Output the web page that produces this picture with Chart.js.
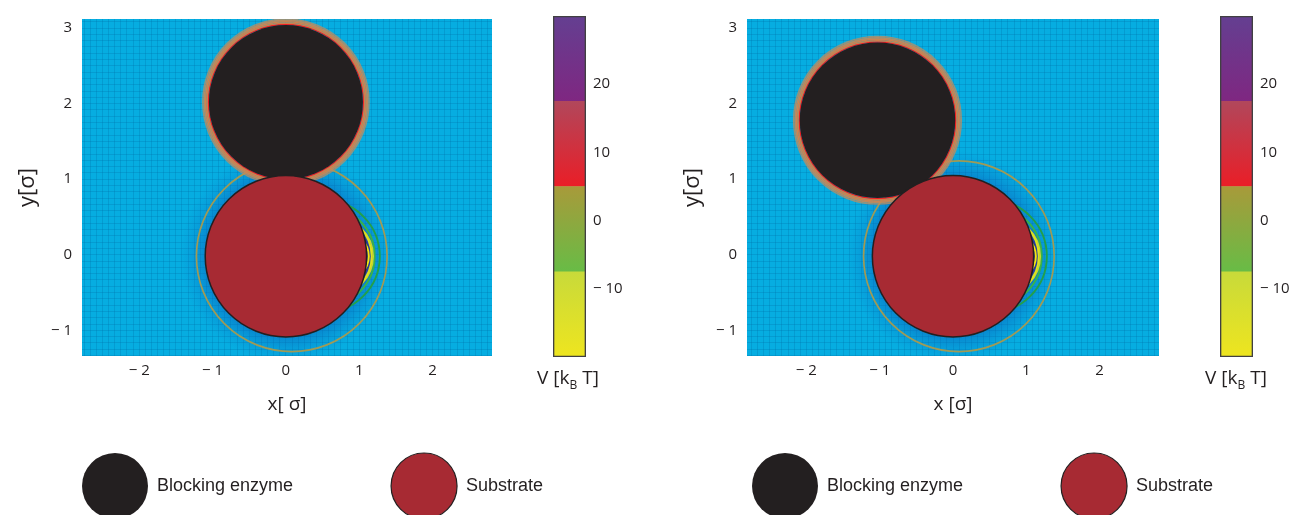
<!DOCTYPE html>
<html><head><meta charset="utf-8">
<script src="https://cdn.jsdelivr.net/npm/chart.js@4.4.0/dist/chart.umd.min.js"></script>
<style>
html,body{margin:0;padding:0;background:#fff;width:1295px;height:515px;overflow:hidden;position:relative;}
canvas{position:absolute;}
.cbt{position:absolute;font:19px 'Open Sans',sans-serif;color:#231f20;white-space:nowrap;transform:translate(-50%,-50%);line-height:1;}
.cbt sub{font-size:12px;vertical-align:-5px;line-height:0;}
</style></head><body>
<canvas id="p1" width="500" height="420" style="left:0;top:0"></canvas>
<canvas id="c1" width="150" height="420" style="left:500px;top:0"></canvas>
<canvas id="p2" width="502" height="420" style="left:665px;top:0"></canvas>
<canvas id="c2" width="150" height="420" style="left:1167px;top:0"></canvas>
<canvas id="l1" width="680" height="260" style="left:-16px;top:355px"></canvas>
<canvas id="l2" width="680" height="260" style="left:654px;top:355px"></canvas>
<div class="cbt" style="left:568px;top:377px">V [k<sub>B</sub> T]</div>
<div class="cbt" style="left:1236px;top:377px">V [k<sub>B</sub> T]</div>
<script>
// ---------- data ----------
const xTickValues = [-2, -1, 0, 1, 2];
const xTickLabels = ['\u2212 2', '\u2212 1', '0', '1', '2'];
const yTickValues = [-1, 0, 1, 2, 3];
const yTickLabels = ['\u2212 1', '0', '1', '2', '3'];
const xRange1 = [-2.78, 2.81];
const xRange2 = [-2.81, 2.81];
const yRange = [-1.34, 3.12];
const meshStep = 1 / 12;
const xTitles = ['x[ \u03c3]', 'x [\u03c3]'];
const yTitle = 'y[\u03c3]';

// particles (σ)
const substrateCenter = {x: 0, y: -0.02};
const substrateR = 1.1;
const enzymeCenters = [{x: 0, y: 2.02}, {x: -1.03, y: 1.78}];
const enzymeRs = [1.05, 1.06];
// contour rings hugging the enzyme (offset from its surface, σ)
const enzymeRingOffsets = [0.008, 0.025, 0.045, 0.064, 0.084];
// contours around the substrate: centre x, centre y, radius (σ)
const contourCx = [0.08, 0.51, 0.53, 0.66, 0.62, 0.81];
const contourCy = [-0.02, -0.02, -0.02, -0.02, -0.02, -0.02];
const contourR = [1.30, 0.77, 0.68, 0.53, 0.55, 0.32];
// low-potential well next to the substrate
const wellCenter = {x: 0.70, y: -0.02};
const wellR = 0.55;
const haloR = 1.45;

// colour bar
const cbRange = [-20, 30];
const cbSegLo = [-20, -7.5, 5, 17.5];
const cbSegHi = [-7.5, 5, 17.5, 30];
const cbTicks = [-10, 0, 10, 20];
const cbTickLabels = ['\u2212 10', '0', '10', '20'];

// legend
const legendNames = ['Blocking enzyme', 'Substrate'];

// ---------- styles ----------
const TXT = '#231f20';
const FONT = "'Open Sans', sans-serif";
const SUBSTRATE_COLOR = '#a72a33';
const enzymeRingColors = ['#ec1c24', '#cf7f4c', '#cc8552', 'rgba(200,136,88,0.9)', 'rgba(192,140,95,0.75)'];
const enzymeRingWidths = [1.4, 1.6, 1.6, 1.6, 1.4];
const contourColors = ['#a09a55', '#22a04a', '#37b34a', '#c4da2c', '#dfe21f', '#f5e90f'];
const contourWidths = [1.7, 1.9, 1.9, 1.7, 1.9, 2];
const cbTop = ['#c8da3a', '#a89a3a', '#b1475b', '#643f91'];
const cbBottom = ['#eee51f', '#68bc46', '#ea1e27', '#7f2781'];
const legendFill = [TXT, SUBSTRATE_COLOR];
const legendStroke = [TXT, TXT];
const legendLine = [0, 1.2];

Chart.defaults.font.family = FONT;
Chart.defaults.color = TXT;

function pxR(chart, r) {
  const s = chart.scales.x;
  if (!s) return 0;
  const v = Math.abs(s.getPixelForValue(r) - s.getPixelForValue(0));
  return isFinite(v) ? v : 0;
}
function tickText(v, vals, labels) {
  const i = vals.findIndex(t => Math.abs(t - v) < 1e-6);
  return i < 0 ? '' : labels[i];
}
function radialFill(ctx, rSigma, stops) {
  const chart = ctx.chart;
  const xs = chart.scales.x, ys = chart.scales.y;
  if (!ctx.raw || !xs || !ys || !chart.chartArea) return 'rgba(0,0,0,0)';
  const cx = xs.getPixelForValue(ctx.raw.x), cy = ys.getPixelForValue(ctx.raw.y);
  const r = pxR(chart, rSigma);
  if (!isFinite(cx) || !isFinite(cy) || !(r > 0)) return 'rgba(0,0,0,0)';
  const g = chart.ctx.createRadialGradient(cx, cy, 0, cx, cy, r);
  stops.forEach(s => g.addColorStop(s[0], s[1]));
  return g;
}

const bgPlugin = {
  id: 'fieldBg',
  beforeDraw(chart, args, opts) {
    const a = chart.chartArea; if (!a) return;
    const c = chart.ctx; c.save(); c.fillStyle = opts.color;
    c.fillRect(a.left, a.top, a.right - a.left, a.bottom - a.top); c.restore();
  }
};

function makePanel(id, xRange, xTitle, enzymeCenter, enzymeR) {
  const T = 'rgba(0,0,0,0)';
  const datasets = [
    {label: 'Substrate', data: [{...substrateCenter}], order: 0, clip: 0,
     pointRadius: c => pxR(c.chart, substrateR), pointBackgroundColor: SUBSTRATE_COLOR, pointBorderColor: TXT, pointBorderWidth: 1.5},
    {label: 'Blocking enzyme', data: [{...enzymeCenter}], order: 1, clip: 0,
     pointRadius: c => pxR(c.chart, enzymeR), pointBackgroundColor: TXT, pointBorderColor: TXT, pointBorderWidth: 0},
    {label: 'enzyme contours', data: enzymeRingOffsets.map(() => ({...enzymeCenter})), order: 2, clip: 0,
     pointRadius: c => pxR(c.chart, enzymeR + enzymeRingOffsets[c.dataIndex]), pointBackgroundColor: T,
     pointBorderColor: c => enzymeRingColors[c.dataIndex], pointBorderWidth: c => enzymeRingWidths[c.dataIndex]},
    {label: 'substrate contours', data: contourCx.map((x, i) => ({x: x, y: contourCy[i]})), order: 3, clip: 0,
     pointRadius: c => pxR(c.chart, contourR[c.dataIndex]), pointBackgroundColor: T,
     pointBorderColor: c => contourColors[c.dataIndex], pointBorderWidth: c => contourWidths[c.dataIndex]},
    {label: 'well', data: [{...wellCenter}], order: 4, clip: 0,
     pointRadius: c => pxR(c.chart, wellR), pointBorderWidth: 0, pointBorderColor: T,
     pointBackgroundColor: c => radialFill(c, wellR, [[0, 'rgba(40,44,140,1)'], [0.8, 'rgba(42,48,148,1)'], [0.9, 'rgba(30,80,175,0.6)'], [1, 'rgba(20,120,200,0)']])},
    {label: 'halo', data: [{...substrateCenter}], order: 5, clip: 0,
     pointRadius: c => pxR(c.chart, haloR), pointBorderWidth: 0, pointBorderColor: T,
     pointBackgroundColor: c => radialFill(c, haloR, [[0, 'rgba(10,100,190,0.5)'], [substrateR / haloR, 'rgba(10,100,190,0.5)'], [0.88, 'rgba(10,110,195,0.22)'], [1, 'rgba(10,120,200,0)']])}
  ];
  return new Chart(document.getElementById(id), {
    type: 'scatter',
    data: {datasets},
    plugins: [bgPlugin],
    options: {
      responsive: false, animation: false, events: [],
      layout: {padding: {left: 12, right: 8, top: 16, bottom: 0}, autoPadding: false},
      plugins: {legend: {display: false}, tooltip: {enabled: false}, fieldBg: {color: '#06ade1'}},
      scales: {
        x: {type: 'linear', position: 'bottom', min: xRange[0], max: xRange[1],
            border: {display: false},
            grid: {color: 'rgba(0,110,170,0.28)', lineWidth: 1, drawTicks: false},
            ticks: {stepSize: meshStep, autoSkip: false, includeBounds: false, maxRotation: 0, minRotation: 0,
                    padding: 6, color: TXT, font: {family: FONT, size: 15},
                    callback: v => tickText(v, xTickValues, xTickLabels)},
            title: {display: true, text: xTitle, color: TXT, font: {family: FONT, size: 19}, padding: {top: 4, bottom: 4}},
            afterFit: s => { s.height = 64; }},
        y: {type: 'linear', position: 'left', min: yRange[0], max: yRange[1],
            border: {display: false},
            grid: {color: 'rgba(0,110,170,0.28)', lineWidth: 1, drawTicks: false},
            ticks: {stepSize: meshStep, autoSkip: false, includeBounds: false,
                    padding: 10, color: TXT, font: {family: FONT, size: 15},
                    callback: v => tickText(v, yTickValues, yTickLabels)},
            title: {display: true, text: yTitle, color: TXT, font: {family: FONT, size: 22}, padding: {top: 3, bottom: 4}},
            afterFit: s => { s.width = 70; }}
      }
    }
  });
}

function segGrad(c, i) {
  const chart = c.chart; const ys = chart.scales.y;
  if (!chart.chartArea || !ys) return cbTop[i];
  const y0 = ys.getPixelForValue(cbSegHi[i]), y1 = ys.getPixelForValue(cbSegLo[i]);
  if (!isFinite(y0) || !isFinite(y1)) return cbTop[i];
  const g = chart.ctx.createLinearGradient(0, y0, 0, y1);
  g.addColorStop(0, cbTop[i]); g.addColorStop(1, cbBottom[i]);
  return g;
}

function makeColorbar(id) {
  const datasets = [
    {data: [[cbRange[0], cbRange[1]]], backgroundColor: 'rgba(0,0,0,0)', borderColor: '#414042',
     borderWidth: 1, borderSkipped: false, order: 0, grouped: false}
  ].concat(cbSegLo.map((lo, i) => ({data: [[lo, cbSegHi[i]]], backgroundColor: c => segGrad(c, i),
     borderWidth: 0, order: 1, grouped: false})));
  return new Chart(document.getElementById(id), {
    type: 'bar',
    data: {labels: ['V'], datasets},
    options: {
      responsive: false, animation: false, events: [],
      layout: {padding: {left: 53, right: 0, top: 16, bottom: 63}},
      datasets: {bar: {barPercentage: 1, categoryPercentage: 1}},
      plugins: {legend: {display: false}, tooltip: {enabled: false}},
      scales: {
        x: {display: false},
        y: {position: 'right', min: cbRange[0], max: cbRange[1], z: 1,
            border: {display: false, dash: [10, 13]},
            grid: {color: 'rgba(150,150,150,0.75)', lineWidth: 1, drawTicks: false},
            afterBuildTicks: s => { s.ticks = cbTicks.map(v => ({value: v})); },
            ticks: {padding: 7, color: TXT, font: {family: FONT, size: 15},
                    callback: v => tickText(v, cbTicks, cbTickLabels)},
            afterFit: s => { s.width = 64; }}
      }
    }
  });
}

function makeLegend(id) {
  return new Chart(document.getElementById(id), {
    type: 'scatter',
    data: {datasets: legendNames.map(n => ({label: n, data: []}))},
    options: {
      responsive: false, animation: false, events: [],
      layout: {padding: 0},
      scales: {x: {display: false}, y: {display: false}},
      plugins: {
        tooltip: {enabled: false},
        legend: {display: true, position: 'top', align: 'start', maxHeight: 300,
          labels: {boxWidth: 66, boxHeight: 66, useBorderRadius: true, borderRadius: 33, padding: 98, color: TXT,
                   font: {family: "'Liberation Sans', Arial, sans-serif", size: 18},
                   generateLabels: () => legendNames.map((n, i) => ({text: n,
                     fillStyle: legendFill[i], strokeStyle: legendStroke[i], lineWidth: legendLine[i],
                     borderRadius: 33, hidden: false, datasetIndex: i, fontColor: TXT}))}}
      }
    }
  });
}

makePanel('p1', xRange1, xTitles[0], enzymeCenters[0], enzymeRs[0]);
makePanel('p2', xRange2, xTitles[1], enzymeCenters[1], enzymeRs[1]);
makeColorbar('c1');
makeColorbar('c2');
makeLegend('l1');
makeLegend('l2');
</script>
</body></html>
